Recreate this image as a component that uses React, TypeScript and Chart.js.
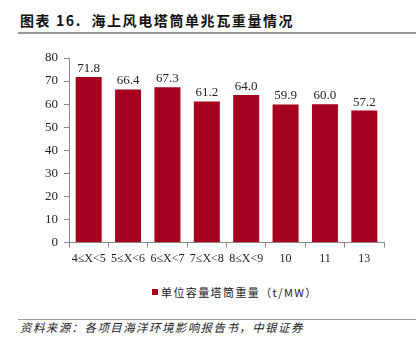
import React, { useEffect, useRef } from "react";
import { Chart, registerables } from "chart.js";

Chart.register(...registerables);

const categories = ["4≤X<5", "5≤X<6", "6≤X<7", "7≤X<8", "8≤X<9", "10", "11", "13"];
const weights = [71.8, 66.4, 67.3, 61.2, 64.0, 59.9, 60.0, 57.2];
const seriesName = "单位容量塔筒重量（t/MW）";
const yTicks = [0, 10, 20, 30, 40, 50, 60, 70, 80];
const titleText = "图表 16.  海上风电塔筒单兆瓦重量情况";
const sourceText = "资料来源：各项目海洋环境影响报告书，中银证券";

const BAR = "#A6001F";
const SERIF = "'Liberation Serif', 'Times New Roman', serif";
const CJK = "'Noto Sans CJK SC', sans-serif";

const valueLabels = {
  id: "valueLabels",
  afterDatasetsDraw(chart: any) {
    const ctx = chart.ctx;
    const meta = chart.getDatasetMeta(0);
    ctx.save();
    ctx.font = `13px ${SERIF}`;
    ctx.fillStyle = "#222";
    ctx.textAlign = "center";
    ctx.textBaseline = "bottom";
    meta.data.forEach((bar: any, i: number) => {
      ctx.fillText(weights[i].toFixed(1), bar.x, bar.y - 2);
    });
    ctx.restore();
  },
};

export default function App() {
  const ref = useRef<HTMLCanvasElement>(null);
  useEffect(() => {
    if (!ref.current) return;
    const chart = new Chart(ref.current, {
      type: "bar",
      data: {
        labels: categories,
        datasets: [
          {
            label: seriesName,
            data: weights,
            backgroundColor: BAR,
            borderWidth: 0,
            categoryPercentage: 0.66,
            barPercentage: 1,
          },
        ],
      },
      options: {
        animation: false,
        responsive: false,
        maintainAspectRatio: false,
        layout: { padding: { left: 39, right: 32, top: 15, bottom: 3 } },
        plugins: {
          tooltip: { enabled: false },
          legend: { display: false },
        },
        scales: {
          x: {
            grid: {
              display: true,
              drawOnChartArea: false,
              offset: true,
              tickLength: 5,
              color: "#888",
            },
            border: { display: true, color: "#888" },
            ticks: {
              color: "#222",
              font: { family: SERIF, size: 12 },
              maxRotation: 0,
              autoSkip: false,
              padding: 4,
            },
          },
          y: {
            min: 0,
            max: 80,
            afterBuildTicks: (axis: any) => {
              axis.ticks = yTicks.map((v) => ({ value: v }));
            },
            grid: {
              display: true,
              drawOnChartArea: false,
              tickLength: 5,
              color: "#888",
            },
            border: { display: true, color: "#888" },
            ticks: {
              color: "#222",
              font: { family: SERIF, size: 13 },
              padding: 6,
            },
          },
        },
      },
      plugins: [valueLabels],
    });
    return () => chart.destroy();
  }, []);

  return (
    <div style={{ position: "fixed", left: 0, top: 0, width: 416, height: 351, background: "#fff", overflow: "hidden" }}>
      <div
        style={{
          position: "absolute",
          left: 20,
          top: 11,
          fontFamily: CJK,
          fontWeight: 700,
          fontSize: 14,
          letterSpacing: "1.6px",
          color: "#111",
          whiteSpace: "pre",
          lineHeight: "18px",
        }}
      >
        {titleText}
      </div>
      <div style={{ position: "absolute", left: 18, top: 32, width: 398, height: 2, background: "#999" }} />
      <canvas ref={ref} width={416} height={230} style={{ position: "absolute", left: 0, top: 43 }} />
      <div
        style={{
          position: "absolute",
          left: 152,
          top: 283,
          display: "flex",
          alignItems: "center",
          fontFamily: CJK,
          fontSize: 11,
          letterSpacing: "1.4px",
          color: "#222",
          lineHeight: "18px",
          whiteSpace: "pre",
        }}
      >
        <span style={{ display: "inline-block", width: 6, height: 6, background: BAR, marginRight: 3 }} />
        <span>{seriesName}</span>
      </div>
      <div style={{ position: "absolute", left: 18, top: 319, width: 398, height: 1, background: "#999" }} />
      <div
        style={{
          position: "absolute",
          left: 20,
          top: 319,
          fontFamily: CJK,
          fontStyle: "italic",
          fontSize: 11.5,
          letterSpacing: "1.4px",
          color: "#222",
          lineHeight: "16px",
          whiteSpace: "pre",
        }}
      >
        {sourceText}
      </div>
    </div>
  );
}
